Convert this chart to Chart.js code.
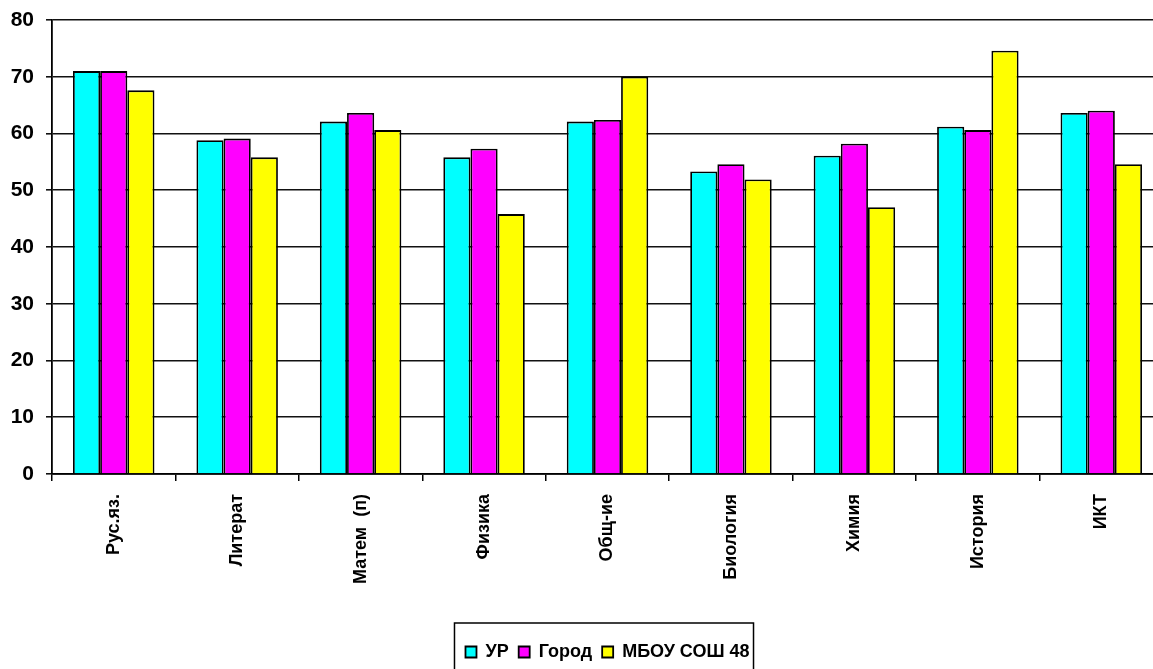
<!DOCTYPE html>
<html>
<head>
<meta charset="utf-8">
<script src="https://cdn.jsdelivr.net/npm/chart.js@4"></script>
<style>
  html, body { margin: 0; padding: 0; overflow: hidden; background: #fff; width: 1153px; height: 669px; }
  canvas { display: block; }
</style>
</head>
<body>
<canvas id="c" width="1170" height="671" style="width:1170px;height:671px"></canvas>
<script>
const categories = ['Рус.яз.', 'Литерат', 'Матем  (п)', 'Физика', 'Общ-ие', 'Биология', 'Химия', 'История', 'ИКТ'];
const seriesNames = ['УР', 'Город', 'МБОУ СОШ 48'];
const urValues = [71.0, 58.8, 62.1, 55.8, 62.1, 53.3, 56.1, 61.2, 63.6];
const gorodValues = [71.0, 59.1, 63.6, 57.3, 62.4, 54.6, 58.2, 60.6, 64.0];
const mbouValues = [67.6, 55.8, 60.6, 45.8, 70.0, 51.9, 47.0, 74.6, 54.6];
const yTicks = [0, 10, 20, 30, 40, 50, 60, 70, 80];

const colors = ['#00FFFF', '#FF00FF', '#FFFF00'];
const allSeries = [urValues, gorodValues, mbouValues];

const legendBorder = {
  id: 'legendBorder',
  afterDraw(chart) {
    const lg = chart.legend;
    if (!lg || !lg.legendHitBoxes || !lg.legendHitBoxes.length) return;
    const hb = lg.legendHitBoxes;
    let minX = Infinity, maxX = -Infinity, minY = Infinity;
    hb.forEach(b => { minX = Math.min(minX, b.left); maxX = Math.max(maxX, b.left + b.width); minY = Math.min(minY, b.top); });
    const ctx = chart.ctx;
    ctx.save();
    ctx.strokeStyle = '#000';
    ctx.lineWidth = 1.5;
    ctx.strokeRect(minX - 11, minY - 20, (maxX - minX) + 15, 90);
    ctx.restore();
  }
};

new Chart(document.getElementById('c'), {
  type: 'bar',
  data: {
    labels: categories,
    datasets: allSeries.map((vals, i) => ({
      label: seriesNames[i],
      data: vals,
      backgroundColor: colors[i],
      borderColor: '#000',
      borderWidth: 1.8,
      categoryPercentage: 0.66,
      barPercentage: 1.0
    }))
  },
  options: {
    responsive: false,
    animation: false,
    devicePixelRatio: 1,
    layout: { padding: { top: 20, right: 7, left: 0, bottom: 0 } },
    plugins: {
      tooltip: { enabled: false },
      legend: {
        position: 'bottom',
        fullSize: false,
        labels: {
          color: '#000',
          boxWidth: 11,
          boxHeight: 11,
          padding: 10,
          font: { family: 'Liberation Sans', size: 18, weight: 'bold' }
        }
      }
    },
    scales: {
      x: {
        grid: { offset: true, drawOnChartArea: false, drawTicks: true, tickLength: 7, color: '#000', lineWidth: 1.5 },
        border: { color: '#000', width: 1.8 },
        ticks: {
          color: '#000',
          maxRotation: 90,
          minRotation: 90,
          padding: 13,
          font: { family: 'Liberation Sans', size: 18, weight: 'bold' }
        },
        afterFit(s) { s.height = 159; }
      },
      y: {
        min: 0,
        max: 80,
        afterBuildTicks(s) { s.ticks = yTicks.map(v => ({ value: v })); },
        grid: { color: '#111', lineWidth: 1.6, drawTicks: true, tickLength: 6 },
        border: { color: '#000', width: 1.8 },
        ticks: {
          color: '#000',
          padding: 12,
          font: { family: 'Liberation Sans', size: 21, weight: 'bold' }
        },
        afterFit(s) { s.width = 52; s.paddingTop = 10; s.paddingBottom = 10; }
      }
    }
  },
  plugins: [legendBorder]
});
</script>
</body>
</html>
